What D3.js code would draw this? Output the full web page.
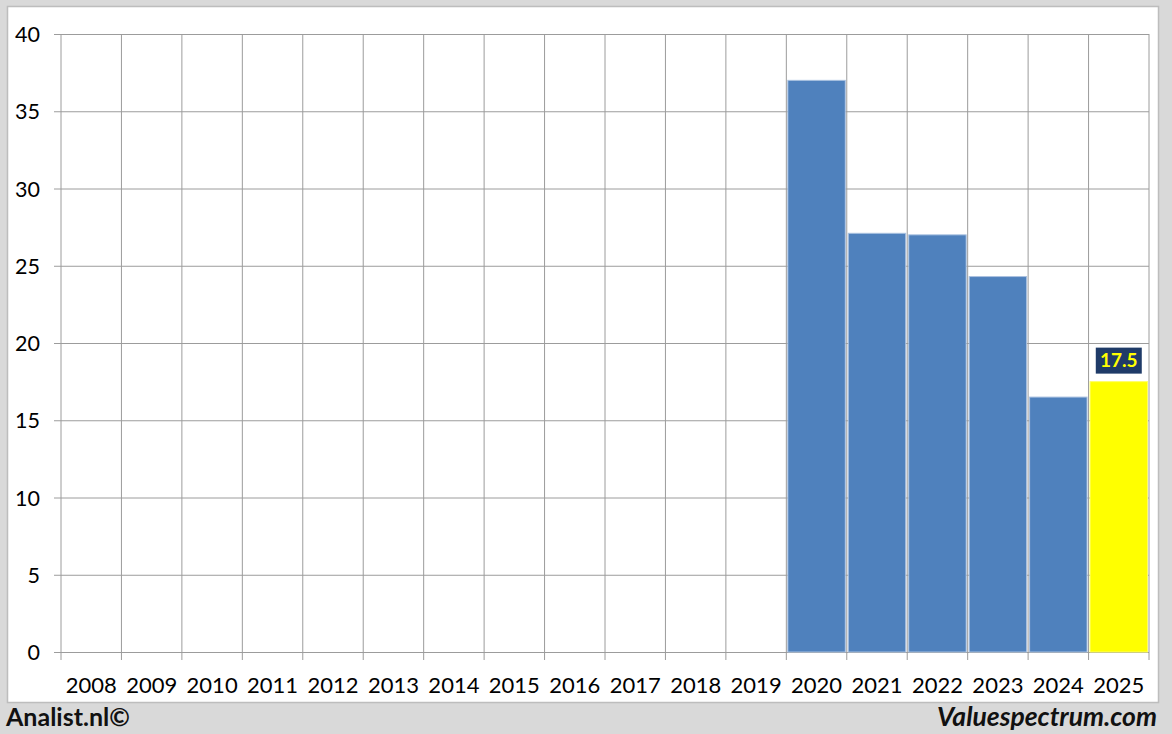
<!DOCTYPE html>
<html><head><meta charset="utf-8">
<script src="https://cdn.jsdelivr.net/npm/d3@7"></script>
<style>body{margin:0;background:#d9d9d9;}svg{display:block;}</style>
</head><body>
<svg id="c" width="1172" height="734"></svg>
<script>
const categories = ["2008","2009","2010","2011","2012","2013","2014","2015","2016","2017","2018","2019","2020","2021","2022","2023","2024","2025"];
const values = [null,null,null,null,null,null,null,null,null,null,null,null,37.0,27.1,27.0,24.3,16.5,17.5];
const highlightYear = "2025";
const yTicks = [0,5,10,15,20,25,30,35,40];

const svg = d3.select("#c");
const W = 1172, H = 734;
svg.append("rect").attr("width",W).attr("height",H).attr("fill","#d9d9d9");
svg.append("rect").attr("x",7.5).attr("y",6.5).attr("width",1151).attr("height",696)
  .attr("fill","#fff").attr("stroke","#bdbdbd").attr("stroke-width",1.5);

const m = {l:61, r:1149, t:34, b:652};
const x = d3.scaleBand().domain(categories).range([m.l,m.r]).paddingInner(0).paddingOuter(0);
const y = d3.scaleLinear().domain([0,40]).range([m.b,m.t]);
const font = "Lato, 'Open Sans', sans-serif";
const grid = "#9c9c9c";

// horizontal gridlines with left ticks
const yAx = svg.append("g").attr("transform",`translate(${m.l},0)`)
  .call(d3.axisLeft(y).tickValues(yTicks).tickSize(-(m.r-m.l)).tickSizeOuter(0).tickPadding(21));
yAx.select(".domain").remove();
yAx.selectAll(".tick line").attr("stroke",grid).attr("x1",-7);
yAx.selectAll(".tick text").attr("font-family",font).attr("font-size",21.5).attr("fill","#000").attr("dy","0.35em");

// vertical gridlines at band boundaries
const bounds = categories.map(c=>x(c)).concat([m.r]);
svg.append("g").selectAll("line").data(bounds).join("line")
  .attr("x1",d=>d).attr("x2",d=>d).attr("y1",m.t).attr("y2",m.b+8)
  .attr("stroke",grid).attr("stroke-width",1);

// x labels
const xAx = svg.append("g").attr("transform",`translate(0,${m.b})`)
  .call(d3.axisBottom(x).tickSize(0).tickPadding(25));
xAx.select(".domain").remove();
xAx.selectAll(".tick text").attr("font-family",font).attr("font-size",22).attr("fill","#000");

// bars
const data = categories.map((c,i)=>({c,v:values[i]})).filter(d=>d.v!=null);
svg.append("g").selectAll("rect").data(data).join("rect")
  .attr("x",d=>x(d.c)+1.5).attr("width",x.bandwidth()-3)
  .attr("y",d=>y(d.v)).attr("height",d=>y(0)-y(d.v))
  .attr("fill",d=>d.c===highlightYear?"#ffff00":"#4f81bd")
  .attr("stroke",d=>d.c===highlightYear?"#ffff66":"#a9c1e0").attr("stroke-width",1);

// label on highlight
const hv = data.find(d=>d.c===highlightYear);
const cx = x(hv.c)+x.bandwidth()/2;
const ly = y(hv.v)-5;
svg.append("rect").attr("x",cx-23).attr("y",ly-29).attr("width",46).attr("height",26).attr("fill","#1f3b68");
svg.append("text").attr("x",cx).attr("y",ly-9.5).attr("text-anchor","middle")
  .attr("font-family",font).attr("font-weight","bold").attr("font-size",19).attr("fill","#ffff00").text(hv.v.toFixed(1));

// footer
svg.append("text").attr("x",6).attr("y",726).attr("font-family",font).attr("font-weight","bold")
  .attr("font-size",25).attr("fill","#111").text("Analist.nl©");
svg.append("text").attr("x",1157).attr("y",726).attr("text-anchor","end").attr("font-family",font)
  .attr("font-weight","bold").attr("font-style","italic").attr("font-size",26.5).attr("fill","#111").text("Valuespectrum.com");
</script>
</body></html>
